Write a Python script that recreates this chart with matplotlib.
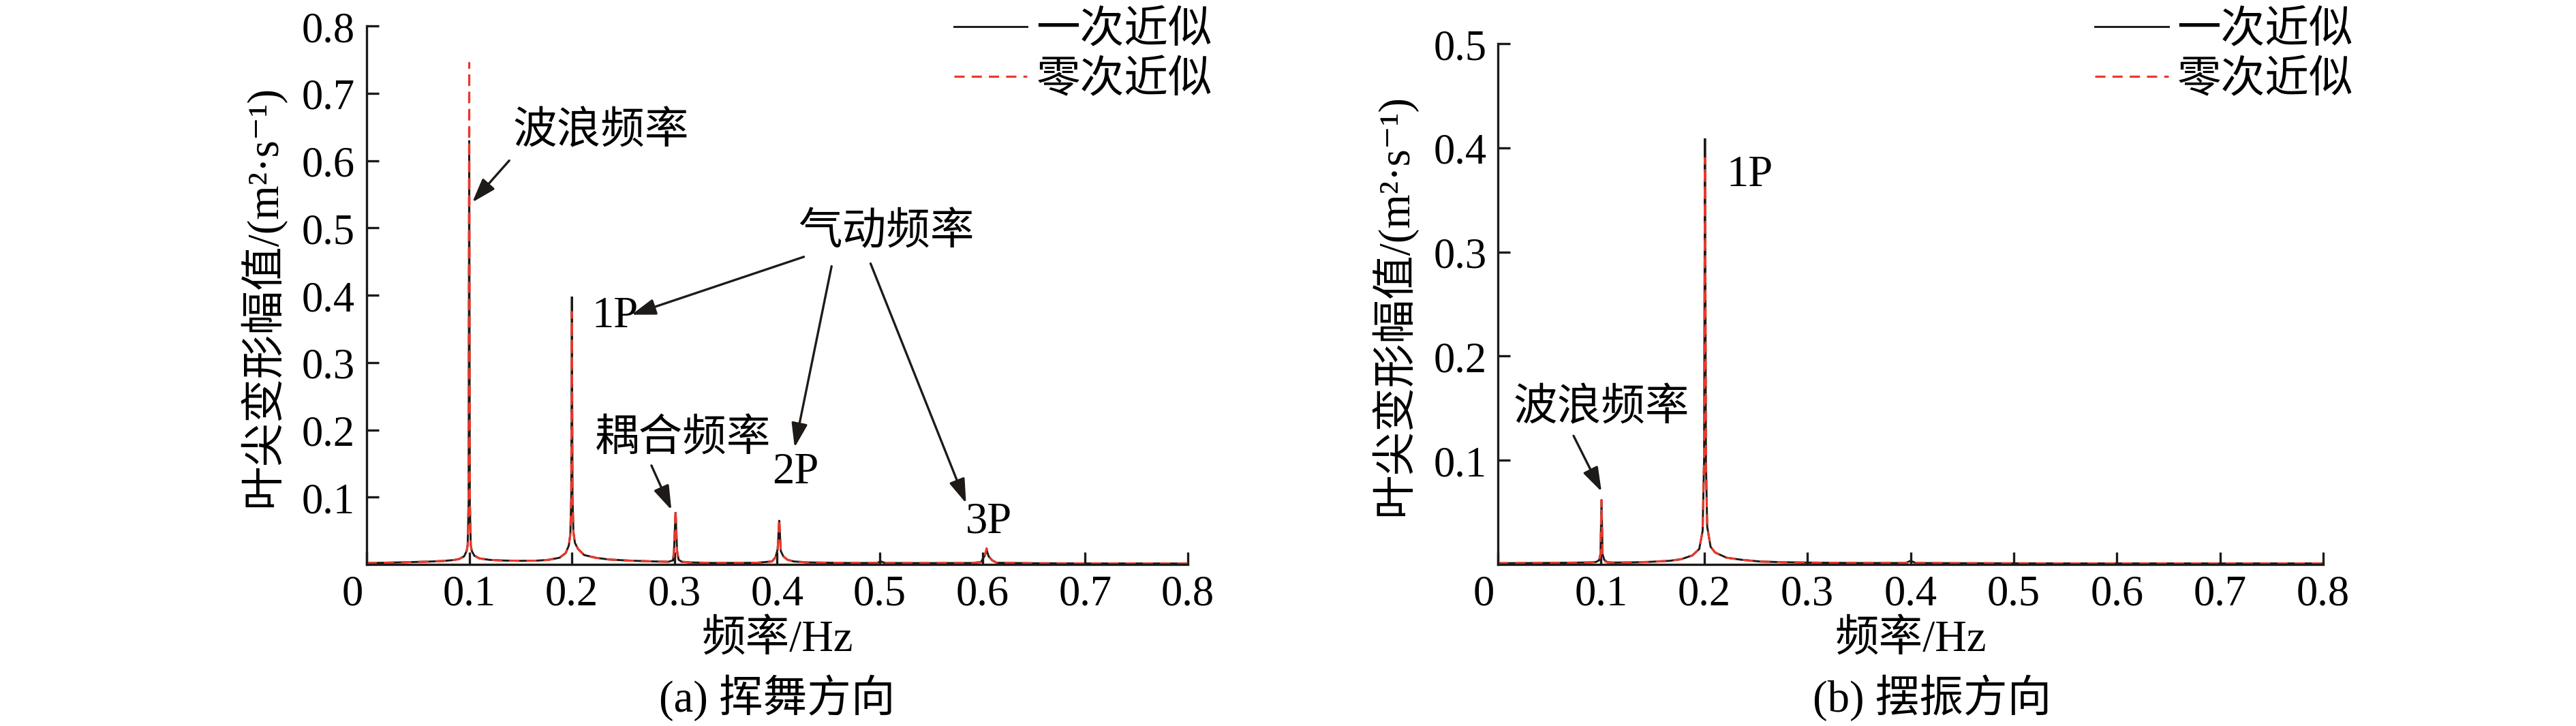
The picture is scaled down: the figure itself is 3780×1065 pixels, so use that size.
import matplotlib
matplotlib.use("Agg")
import matplotlib.pyplot as plt
from matplotlib.transforms import ScaledTranslation

plt.rcParams["font.family"] = ["Liberation Serif", "Noto Sans CJK SC", "DejaVu Serif"]
plt.rcParams["font.size"] = 15

# ---- data ----
# (a) flapwise: frequency (Hz) and amplitude for first- and zero-order approximation
freq_a = [0.000, 0.030, 0.060, 0.075, 0.085, 0.090, 0.095, 0.0975, 0.0985, 0.0994,
          0.1000, 0.1006, 0.1015, 0.1025, 0.105, 0.110, 0.120, 0.134, 0.150, 0.165,
          0.177, 0.188, 0.194, 0.197, 0.1985, 0.1994, 0.2000, 0.2006, 0.2015, 0.203,
          0.206, 0.212, 0.223, 0.236, 0.256, 0.280, 0.294, 0.2985, 0.2995, 0.3010,
          0.3025, 0.3040, 0.307, 0.315, 0.340, 0.380, 0.395, 0.3985, 0.4005, 0.4020,
          0.4035, 0.406, 0.410, 0.416, 0.430, 0.470, 0.497, 0.501, 0.505, 0.550,
          0.590, 0.5985, 0.6025, 0.6040, 0.6060, 0.6095, 0.614, 0.650, 0.700, 0.750,
          0.800]
first_a = [0.0020, 0.0030, 0.0042, 0.0052, 0.0066, 0.0080, 0.0120, 0.0200, 0.0290, 0.090,
           0.630, 0.090, 0.0290, 0.0200, 0.0130, 0.0090, 0.0068, 0.0058, 0.0054, 0.0056,
           0.0068, 0.0100, 0.0170, 0.0280, 0.0450, 0.100, 0.398, 0.100, 0.0480, 0.0320,
           0.0230, 0.0140, 0.0100, 0.0074, 0.0057, 0.0045, 0.0040, 0.0060, 0.0200, 0.078,
           0.0200, 0.0070, 0.0040, 0.0030, 0.0022, 0.0025, 0.0045, 0.0110, 0.0230, 0.066,
           0.0200, 0.0120, 0.0070, 0.0045, 0.0030, 0.0022, 0.0022, 0.0045, 0.0022, 0.0020,
           0.0022, 0.0035, 0.0140, 0.022, 0.0120, 0.0060, 0.0025, 0.0018, 0.0015, 0.0015,
           0.0014]
zero_a = [0.0020, 0.0030, 0.0042, 0.0052, 0.0066, 0.0080, 0.0120, 0.0200, 0.0290, 0.100,
          0.745, 0.100, 0.0290, 0.0200, 0.0130, 0.0090, 0.0068, 0.0058, 0.0054, 0.0056,
          0.0068, 0.0100, 0.0170, 0.0280, 0.0450, 0.100, 0.375, 0.100, 0.0480, 0.0320,
          0.0230, 0.0140, 0.0100, 0.0074, 0.0057, 0.0045, 0.0040, 0.0060, 0.0200, 0.082,
          0.0200, 0.0070, 0.0040, 0.0030, 0.0022, 0.0025, 0.0045, 0.0110, 0.0230, 0.068,
          0.0200, 0.0120, 0.0070, 0.0045, 0.0030, 0.0022, 0.0022, 0.0035, 0.0022, 0.0020,
          0.0022, 0.0035, 0.0140, 0.024, 0.0120, 0.0060, 0.0025, 0.0018, 0.0015, 0.0015,
          0.0014]

# (b) edgewise
freq_b = [0.000, 0.040, 0.080, 0.090, 0.095, 0.098, 0.0994, 0.1004, 0.1014, 0.103,
          0.106, 0.112, 0.130, 0.145, 0.1665, 0.1775, 0.1885, 0.1951, 0.1984, 0.1998,
          0.2007, 0.2016, 0.2028, 0.2061, 0.2105, 0.2215, 0.237, 0.2545, 0.275, 0.300,
          0.350, 0.395, 0.400, 0.405, 0.450, 0.550, 0.650, 0.800]
first_b = [0.0012, 0.0014, 0.0018, 0.0020, 0.0024, 0.0040, 0.0100, 0.0614, 0.0100, 0.0045,
           0.0022, 0.0018, 0.0020, 0.0024, 0.0035, 0.0050, 0.0087, 0.0148, 0.0322, 0.100,
           0.409, 0.100, 0.0366, 0.0170, 0.0115, 0.0065, 0.0044, 0.0028, 0.0022, 0.0018,
           0.0014, 0.0014, 0.0035, 0.0014, 0.0012, 0.0010, 0.0010, 0.0010]
zero_b = [0.0012, 0.0014, 0.0018, 0.0020, 0.0022, 0.0030, 0.0100, 0.0620, 0.0100, 0.0035,
          0.0020, 0.0018, 0.0020, 0.0024, 0.0035, 0.0050, 0.0087, 0.0148, 0.0322, 0.100,
          0.390, 0.100, 0.0366, 0.0170, 0.0115, 0.0065, 0.0044, 0.0028, 0.0022, 0.0018,
          0.0014, 0.0014, 0.0018, 0.0014, 0.0012, 0.0010, 0.0010, 0.0010]

xticks = [0, 0.1, 0.2, 0.3, 0.4, 0.5, 0.6, 0.7, 0.8]
xtick_labels = ["0", "0.1", "0.2", "0.3", "0.4", "0.5", "0.6", "0.7", "0.8"]
yticks_a = [0.1, 0.2, 0.3, 0.4, 0.5, 0.6, 0.7, 0.8]
yticks_b = [0.1, 0.2, 0.3, 0.4, 0.5]
series_labels = ["一次近似", "零次近似"]

BLACK = "#1e1a17"
RED = "#e8392b"
ARROW = "-|>,head_length=0.6,head_width=0.2"

fig = plt.figure(figsize=(12.6, 3.5533), dpi=300)
ax1 = fig.add_axes([0.1423, 0.2223, 0.3188, 0.7411])
ax2 = fig.add_axes([0.5815, 0.2223, 0.3204, 0.7167])


def style_axes(ax, ymax, yticks):
    ax.set_xlim(0, 0.8)
    ax.set_ylim(0, ymax)
    ax.set_xticks(xticks)
    ax.set_xticklabels(xtick_labels)
    ax.set_yticks(yticks)
    ax.set_yticklabels([f"{v:.1f}" for v in yticks])
    for s in ["top", "right"]:
        ax.spines[s].set_visible(False)
    for s in ["left", "bottom"]:
        ax.spines[s].set_linewidth(0.8)
        ax.spines[s].set_color(BLACK)
    ax.tick_params(direction="in", length=4.3, width=0.8, color=BLACK, labelsize=15)
    ax.tick_params(axis="x", pad=3.5)
    ax.tick_params(axis="y", pad=4)
    ax.set_xlabel("频率/Hz", fontsize=15.5, labelpad=2)
    ax.set_ylabel("叶尖变形幅值/(m²·s⁻¹)", fontsize=15.5, labelpad=6)
    # the "0" label sits a little left of the origin
    zero_lbl = ax.xaxis.get_major_ticks()[0].label1
    zero_lbl.set_transform(zero_lbl.get_transform()
                           + ScaledTranslation(-5 / 72, 0, fig.dpi_scale_trans))


def arrow(ax, start, tip):
    ax.annotate("", xy=tip, xytext=start,
                arrowprops=dict(arrowstyle=ARROW, lw=0.8, color=BLACK,
                                shrinkA=0, shrinkB=0, mutation_scale=12))


# ---- (a) ----
l1, = ax1.plot(freq_a, first_a, color=BLACK, lw=0.7, solid_joinstyle="miter")
l2, = ax1.plot(freq_a, zero_a, color=RED, lw=0.75, linestyle=(0, (4.8, 3.3)))
style_axes(ax1, 0.8, yticks_a)

ax1.text(0.228, 0.643, "波浪频率", ha="center", va="center", fontsize=15.5)
arrow(ax1, (0.139, 0.600), (0.103, 0.538))
ax1.text(0.506, 0.493, "气动频率", ha="center", va="center", fontsize=15.5)
arrow(ax1, (0.426, 0.457), (0.258, 0.371))
arrow(ax1, (0.453, 0.443), (0.417, 0.174))
arrow(ax1, (0.491, 0.447), (0.584, 0.091))
ax1.text(0.242, 0.369, "1P", ha="center", va="center", fontsize=15.5)
ax1.text(0.308, 0.186, "耦合频率", ha="center", va="center", fontsize=15.5)
arrow(ax1, (0.2775, 0.147), (0.297, 0.081))
ax1.text(0.418, 0.137, "2P", ha="center", va="center", fontsize=15.5)
ax1.text(0.606, 0.064, "3P", ha="center", va="center", fontsize=15.5)

ax1.legend([l1, l2], series_labels, loc="upper right", bbox_to_anchor=(0.4706, 0.985),
           bbox_transform=fig.transFigure, frameon=False, borderpad=0, borderaxespad=0,
           handlelength=1.66, handletextpad=0.2, labelspacing=0.2, fontsize=15.5)

# ---- (b) ----
m1, = ax2.plot(freq_b, first_b, color=BLACK, lw=0.7, solid_joinstyle="miter")
m2, = ax2.plot(freq_b, zero_b, color=RED, lw=0.75, linestyle=(0, (4.8, 3.3)))
style_axes(ax2, 0.5, yticks_b)

ax2.text(0.244, 0.374, "1P", ha="center", va="center", fontsize=15.5)
ax2.text(0.1004, 0.150, "波浪频率", ha="center", va="center", fontsize=15.5)
arrow(ax2, (0.0733, 0.1235), (0.1004, 0.070))

ax2.legend([m1, m2], series_labels, loc="upper right", bbox_to_anchor=(0.9135, 0.985),
           bbox_transform=fig.transFigure, frameon=False, borderpad=0, borderaxespad=0,
           handlelength=1.66, handletextpad=0.2, labelspacing=0.2, fontsize=15.5)

# captions
fig.text(0.3017, 0.040, "(a) 挥舞方向", ha="center", va="center", fontsize=15.5)
fig.text(0.7500, 0.040, "(b) 摆振方向", ha="center", va="center", fontsize=15.5)

fig.savefig("out.png", dpi=300)
